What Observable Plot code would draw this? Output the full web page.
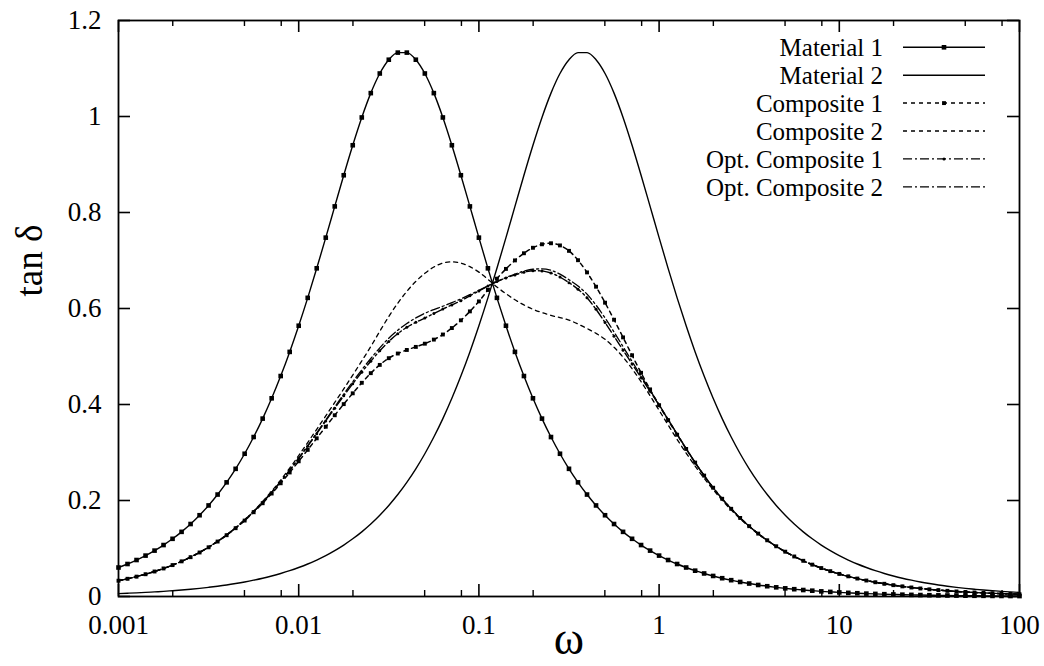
<!DOCTYPE html>
<html>
<head>
<meta charset="utf-8">
<script src="https://cdn.jsdelivr.net/npm/d3@7"></script>
<script src="https://cdn.jsdelivr.net/npm/@observablehq/plot@0.6"></script>
<style>
  html, body { margin: 0; padding: 0; background: #fff; }
  #chart { width: 1044px; height: 666px; }
</style>
</head>
<body>
<div id="chart"></div>
<script>
// ---- data ----
const omega = [
  0.001, 0.001122, 0.001259, 0.001413, 0.001585, 0.001778, 0.001995, 0.002239, 0.002512, 0.002818,
  0.003162, 0.003548, 0.003981, 0.004467, 0.005012, 0.005623, 0.00631, 0.007079, 0.007943, 0.008913,
  0.01, 0.01122, 0.01259, 0.01413, 0.01585, 0.01778, 0.01995, 0.02239, 0.02512, 0.02818,
  0.03162, 0.03548, 0.03981, 0.04467, 0.05012, 0.05623, 0.0631, 0.07079, 0.07943, 0.08913,
  0.1, 0.1122, 0.1259, 0.1413, 0.1585, 0.1778, 0.1995, 0.2239, 0.2512, 0.2818,
  0.3162, 0.3548, 0.3981, 0.4467, 0.5012, 0.5623, 0.631, 0.7079, 0.7943, 0.8913,
  1, 1.122, 1.259, 1.413, 1.585, 1.778, 1.995, 2.239, 2.512, 2.818,
  3.162, 3.548, 3.981, 4.467, 5.012, 5.623, 6.31, 7.079, 7.943, 8.913,
  10, 11.22, 12.59, 14.13, 15.85, 17.78, 19.95, 22.39, 25.12, 28.18,
  31.62, 35.48, 39.81, 44.67, 50.12, 56.23, 63.1, 70.79, 79.43, 89.13,
  100
];

const material1 = [
  .0604,.0677,.0760,.0852,.0956,.1072,.1202,.1347,.1510,.1693,
  .1897,.2124,.2378,.2660,.2974,.3322,.3706,.4129,.4593,.5096,
  .5641,.6222,.6837,.7476,.8127,.8776,.9401,.9980,1.0487,1.0896,
  1.1183,1.1331,1.1331,1.1183,1.0896,1.0487,.9980,.9401,.8776,.8127,
  .7476,.6837,.6222,.5641,.5096,.4593,.4129,.3706,.3322,.2974,
  .2660,.2378,.2124,.1897,.1693,.1510,.1347,.1202,.1072,.0956,
  .0852,.0760,.0677,.0604,.0538,.0480,.0428,.0381,.0340,.0303,
  .0270,.0240,.0214,.0191,.0170,.0152,.0135,.0121,.0107,.0096,
  .0085,.0076,.0068,.0060,.0054,.0048,.0043,.0038,.0034,.0030,
  .0027,.0024,.0021,.0019,.0017,.0015,.0014,.0012,.0011,.0010,
  .0009
];

const material2 = [
  .0060,.0068,.0076,.0085,.0096,.0107,.0121,.0135,.0152,.0170,
  .0191,.0214,.0240,.0270,.0303,.0340,.0381,.0428,.0480,.0538,
  .0604,.0677,.0760,.0852,.0956,.1072,.1202,.1347,.1510,.1693,
  .1897,.2124,.2378,.2660,.2974,.3322,.3706,.4129,.4593,.5096,
  .5641,.6222,.6837,.7476,.8127,.8776,.9401,.9980,1.0487,1.0896,
  1.1183,1.1331,1.1331,1.1183,1.0896,1.0487,.9980,.9401,.8776,.8127,
  .7476,.6837,.6222,.5641,.5096,.4593,.4129,.3706,.3322,.2974,
  .2660,.2378,.2124,.1897,.1693,.1510,.1347,.1202,.1072,.0956,
  .0852,.0760,.0677,.0604,.0538,.0480,.0428,.0381,.0340,.0303,
  .0270,.0240,.0214,.0191,.0170,.0152,.0135,.0121,.0107,.0096,
  .0085
];

const composite1 = [
  .0329,.0369,.0414,.0464,.0521,.0584,.0654,.0732,.0819,.0917,
  .1025,.1145,.1277,.1423,.1582,.1756,.1943,.2145,.2359,.2584,
  .2817,.3055,.3295,.3537,.3776,.4008,.4233,.4452,.4653,.4825,
  .4965,.5062,.5136,.5200,.5267,.5352,.5458,.5593,.5754,.5940,
  .6148,.6386,.6622,.6825,.7002,.7151,.7265,.7338,.7359,.7314,
  .7201,.7006,.6752,.6454,.6121,.5766,.5398,.5026,.4660,.4315,
  .3986,.3672,.3370,.3074,.2790,.2519,.2266,.2036,.1827,.1637,
  .1465,.1310,.1171,.1046,.0934,.0834,.0744,.0664,.0592,.0528,
  .0471,.0420,.0374,.0333,.0297,.0265,.0236,.0211,.0188,.0167,
  .0149,.0133,.0118,.0105,.0094,.0084,.0075,.0067,.0059,.0053,
  .0047
];

const composite2 = [
  .0330,.0370,.0415,.0465,.0521,.0584,.0655,.0734,.0822,.0920,
  .1030,.1151,.1286,.1436,.1601,.1782,.1979,.2194,.2425,.2674,
  .2936,.3207,.3484,.3762,.4042,.4325,.4613,.4907,.5207,.5525,
  .5834,.6111,.6356,.6564,.6733,.6864,.6948,.6972,.6946,.6871,
  .6758,.6609,.6449,.6308,.6181,.6074,.5984,.5914,.5857,.5810,
  .5757,.5677,.5582,.5482,.5358,.5191,.4987,.4745,.4475,.4183,
  .3879,.3574,.3273,.2988,.2717,.2463,.2226,.2007,.1805,.1621,
  .1454,.1302,.1165,.1042,.0931,.0831,.0742,.0662,.0591,.0527,
  .0470,.0420,.0374,.0333,.0297,.0265,.0236,.0211,.0188,.0167,
  .0149,.0133,.0118,.0105,.0094,.0084,.0075,.0067,.0059,.0053,
  .0047
];

const optComposite1 = [
  .0329,.0369,.0414,.0465,.0521,.0584,.0654,.0733,.0821,.0919,
  .1027,.1148,.1281,.1429,.1591,.1769,.1961,.2169,.2391,.2627,
  .2874,.3131,.3393,.3658,.3922,.4181,.4433,.4674,.4902,.5118,
  .5313,.5475,.5609,.5712,.5802,.5896,.5988,.6075,.6164,.6264,
  .6367,.6468,.6561,.6637,.6699,.6755,.6788,.6782,.6739,.6656,
  .6539,.6401,.6224,.5982,.5708,.5424,.5132,.4846,.4560,.4275,
  .3986,.3686,.3383,.3082,.2790,.2518,.2266,.2036,.1827,.1637,
  .1465,.1310,.1171,.1046,.0934,.0834,.0744,.0664,.0592,.0528,
  .0471,.0420,.0374,.0333,.0297,.0265,.0236,.0211,.0188,.0167,
  .0149,.0133,.0118,.0105,.0094,.0084,.0075,.0067,.0059,.0053,
  .0047
];

const optComposite2 = [
  .0329,.0369,.0414,.0465,.0521,.0584,.0654,.0733,.0821,.0919,
  .1028,.1149,.1282,.1430,.1592,.1770,.1963,.2172,.2396,.2634,
  .2884,.3144,.3410,.3680,.3949,.4214,.4473,.4722,.4958,.5181,
  .5382,.5548,.5687,.5804,.5901,.5978,.6047,.6122,.6201,.6288,
  .6378,.6471,.6561,.6644,.6717,.6779,.6818,.6826,.6796,.6715,
  .6599,.6468,.6299,.6070,.5803,.5511,.5205,.4899,.4593,.4295,
  .3997,.3690,.3383,.3081,.2790,.2518,.2266,.2036,.1827,.1637,
  .1465,.1310,.1171,.1046,.0934,.0834,.0744,.0664,.0592,.0528,
  .0471,.0420,.0374,.0333,.0297,.0265,.0236,.0211,.0188,.0167,
  .0149,.0133,.0118,.0105,.0094,.0084,.0075,.0067,.0059,.0053,
  .0047
];

const seriesNames = ["Material 1", "Material 2", "Composite 1", "Composite 2", "Opt. Composite 1", "Opt. Composite 2"];
const xMajorTicks = [0.001, 0.01, 0.1, 1, 10, 100];
const xTickLabels = ["0.001", "0.01", "0.1", "1", "10", "100"];
const xMinorTicks = [0.002, 0.005, 0.008, 0.02, 0.05, 0.08, 0.2, 0.5, 0.8, 2, 5, 8, 20, 50, 80];
const yTicks = [0, 0.2, 0.4, 0.6, 0.8, 1, 1.2];
const yTickLabels = ["0", "0.2", "0.4", "0.6", "0.8", "1", "1.2"];
const xLabel = "ω";
const yLabel = "tan δ";

// ---- styles / layout ----
const seriesValues = [material1, material2, composite1, composite2, optComposite1, optComposite2];
const seriesStyle = [
  {width: 1.4, dash: null, symbol: "square", r: 2.6},
  {width: 1.4, dash: null},
  {width: 1.5, dash: "4,4", symbol: "square", r: 2.2},
  {width: 1.3, dash: "4,4"},
  {width: 1.4, dash: "9,3,2,3", symbol: "circle", r: 1.5},
  {width: 1.3, dash: "9,3,2,3"}
];
const W = 1044, H = 666;
const M = {left: 118, right: 25, top: 20, bottom: 70};
const frameW = W - M.left - M.right;
const frameH = H - M.top - M.bottom;
const font = "'Liberation Serif', 'Times New Roman', serif";

const rows = seriesNames.map((name, s) =>
  omega.map((w, i) => ({name, omega: w, tan: seriesValues[s][i]}))
);

const xFmt = new Map(xMajorTicks.map((d, i) => [d, xTickLabels[i]]));
const yFmt = new Map(yTicks.map((d, i) => [d, yTickLabels[i]]));

const drawOrder = [1, 3, 5, 4, 2, 0];
const curveMarks = [];
for (const s of drawOrder) {
  const st = seriesStyle[s];
  curveMarks.push(Plot.line(rows[s], {
    x: "omega", y: "tan", stroke: "black", strokeWidth: st.width,
    strokeDasharray: st.dash, curve: "monotone-x"
  }));
  if (st.symbol) {
    curveMarks.push(Plot.dot(rows[s], {
      x: "omega", y: "tan", symbol: st.symbol, r: st.r, fill: "black", stroke: "none"
    }));
  }
}

const chart = Plot.plot({
  width: W, height: H,
  marginLeft: M.left, marginRight: M.right, marginTop: M.top, marginBottom: M.bottom,
  style: {fontFamily: font, color: "black", background: "white"},
  x: {type: "log", domain: [0.001, 100], axis: null},
  y: {domain: [0, 1.2], axis: null},
  marks: [
    ...curveMarks,
    Plot.tickX(xMajorTicks, {x: d => d, insetTop: frameH - 12, strokeWidth: 1.6}),
    Plot.tickX(xMajorTicks, {x: d => d, insetBottom: frameH - 12, strokeWidth: 1.6}),
    Plot.tickX(xMinorTicks, {x: d => d, insetTop: frameH - 6, strokeWidth: 1.4}),
    Plot.tickX(xMinorTicks, {x: d => d, insetBottom: frameH - 6, strokeWidth: 1.4}),
    Plot.tickY(yTicks, {y: d => d, insetRight: frameW - 12, strokeWidth: 1.6}),
    Plot.tickY(yTicks, {y: d => d, insetLeft: frameW - 12, strokeWidth: 1.6}),
    Plot.frame({stroke: "black", strokeWidth: 1.8}),
    Plot.axisX(xMajorTicks, {anchor: "bottom", tickSize: 0, tickPadding: 18, tickFormat: d => xFmt.get(d), fontSize: 27, label: null}),
    Plot.axisY(yTicks, {anchor: "left", tickSize: 0, tickPadding: 17, tickFormat: d => yFmt.get(d), fontSize: 27, label: null}),
    Plot.text([yLabel], {text: d => d, frameAnchor: "left", dx: -88, dy: -12, rotate: -90, fontSize: 37}),
    Plot.text([xLabel], {text: d => d, frameAnchor: "bottom", dy: 57, fontSize: 46})
  ]
});

// ---- legend (inside the frame, top right) ----
const legend = {textRight: 883, lineStart: 903, lineEnd: 985, top: 47.3, step: 27.9, fontSize: 25};
const svg = d3.select(chart);
const lg = svg.append("g").attr("font-family", font).attr("font-size", legend.fontSize);
seriesNames.forEach((name, i) => {
  const st = seriesStyle[i];
  const y = legend.top + i * legend.step;
  lg.append("text").attr("x", legend.textRight).attr("y", y).attr("dy", "0.36em")
    .attr("text-anchor", "end").attr("fill", "black").text(name);
  lg.append("line").attr("x1", legend.lineStart).attr("x2", legend.lineEnd)
    .attr("y1", y).attr("y2", y).attr("stroke", "black").attr("stroke-width", st.width)
    .attr("stroke-dasharray", st.dash);
  if (st.symbol) {
    const sym = d3.symbol().type(st.symbol === "square" ? d3.symbolSquare : d3.symbolCircle)
      .size(Math.PI * st.r * st.r);
    lg.append("path").attr("d", sym())
      .attr("transform", `translate(${(legend.lineStart + legend.lineEnd) / 2},${y})`)
      .attr("fill", "black");
  }
});

document.getElementById("chart").appendChild(chart);
</script>
</body>
</html>
